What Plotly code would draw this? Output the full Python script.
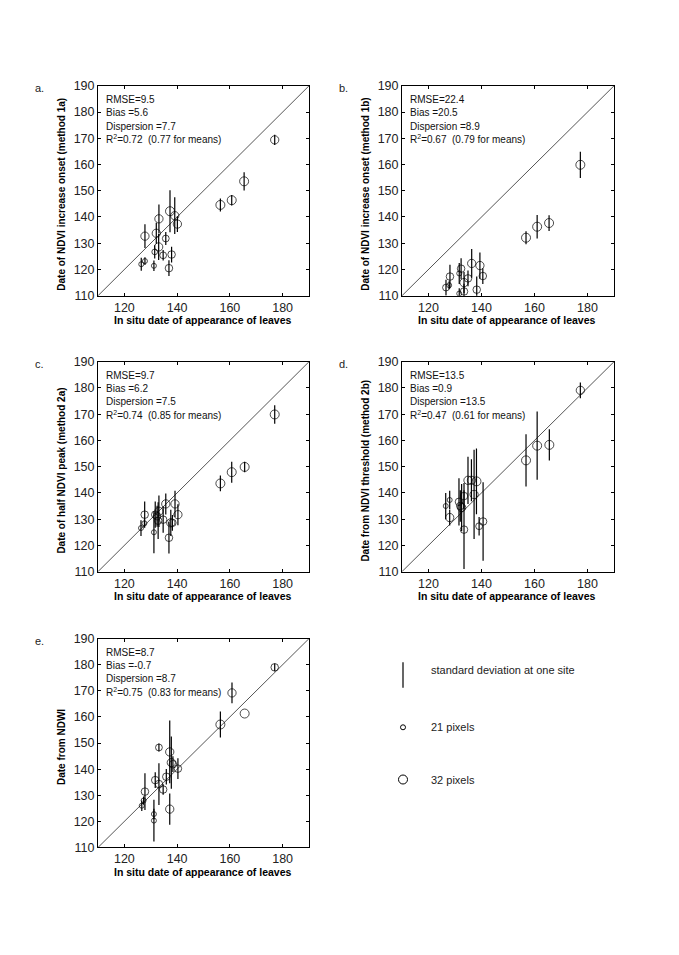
import plotly.graph_objects as go

W, H = 679, 955

# ---------------- data ----------------
xa = [126.4, 127.8, 127.8, 131.2, 131.5, 132.1, 133.0, 133.1, 134.7, 135.7, 136.9, 137.9, 137.3, 139.1, 140.1, 156.4, 160.7, 165.4, 177.0]
ya = [122.0, 123.2, 132.7, 121.4, 126.7, 133.8, 128.6, 139.3, 125.4, 131.8, 120.5, 125.7, 142.2, 140.5, 137.3, 144.6, 146.4, 153.6, 169.4]
ea = [2.5, 1.5, 4.5, 2.0, 2.5, 4.0, 5.0, 5.5, 2.0, 2.5, 3.0, 3.0, 8.0, 7.0, 3.0, 2.5, 2.0, 3.5, 2.0]
na = [21, 21, 30, 21, 23, 30, 30, 30, 26, 26, 28, 28, 32, 30, 30, 32, 32, 32, 30]

xb = [126.6, 127.8, 128.1, 131.6, 131.6, 132.3, 133.4, 133.4, 134.9, 136.3, 138.2, 139.4, 140.5, 156.8, 161.0, 165.5, 177.3]
yb = [113.1, 114.0, 117.3, 118.5, 110.8, 120.3, 115.0, 111.6, 116.6, 122.3, 112.3, 121.5, 117.5, 132.1, 136.3, 137.7, 159.9]
eb = [3.0, 1.5, 4.5, 4.0, 2.0, 4.0, 4.0, 3.0, 3.0, 5.5, 5.0, 5.0, 3.0, 2.5, 4.5, 3.0, 5.0]
nb = [26, 21, 28, 21, 21, 28, 30, 28, 28, 30, 28, 30, 28, 32, 32, 32, 32]

xc = [126.3, 127.6, 127.7, 131.2, 131.7, 132.4, 133.1, 132.8, 134.7, 135.7, 136.9, 137.6, 138.2, 139.2, 140.3, 156.4, 160.7, 165.6, 177.0]
yc = [126.6, 128.4, 131.7, 125.0, 131.7, 131.1, 133.0, 129.4, 129.8, 135.8, 122.9, 128.6, 128.6, 135.8, 131.7, 143.6, 147.9, 149.9, 169.9]
ec = [3.0, 1.5, 5.0, 8.0, 5.0, 4.0, 6.0, 7.0, 5.0, 4.0, 6.0, 5.0, 3.0, 5.0, 4.0, 3.0, 4.0, 2.0, 3.5]
nc = [21, 21, 28, 21, 28, 28, 30, 28, 28, 30, 28, 30, 28, 30, 30, 32, 32, 32, 32]

xd = [126.5, 128.0, 128.0, 131.5, 132.0, 132.5, 133.4, 133.4, 134.9, 136.2, 137.2, 138.1, 139.1, 140.6, 156.8, 161.0, 165.6, 177.3]
yd = [135.0, 137.3, 130.6, 136.6, 135.0, 134.4, 126.0, 138.8, 144.8, 144.8, 139.4, 144.4, 127.3, 129.1, 152.4, 158.0, 158.3, 179.1]
ed = [5.0, 3.5, 3.0, 9.0, 6.0, 9.0, 15.0, 5.0, 9.0, 8.0, 17.0, 12.5, 3.5, 15.0, 10.0, 13.0, 6.0, 3.0]
nd = [21, 21, 30, 28, 28, 30, 28, 28, 30, 30, 30, 32, 26, 28, 32, 32, 32, 30]

xe = [126.6, 127.3, 127.8, 131.2, 131.2, 131.7, 133.1, 134.7, 135.9, 137.2, 137.2, 137.8, 138.4, 140.3, 133.1, 156.4, 160.8, 165.6, 177.0]
ye = [126.0, 128.0, 131.4, 122.8, 120.3, 135.8, 134.3, 132.2, 137.1, 146.6, 124.7, 142.5, 141.9, 140.2, 148.3, 157.1, 169.2, 161.3, 179.0]
ee = [2.0, 1.5, 7.0, 2.0, 8.0, 3.0, 8.0, 2.0, 3.0, 12.0, 6.0, 10.0, 3.0, 4.0, 1.5, 5.0, 4.0, 0.0, 1.5]
ne = [21, 21, 28, 21, 21, 28, 28, 28, 28, 30, 30, 30, 28, 28, 26, 32, 30, 32, 28]

panel_letters = ["a.", "b.", "c.", "d.", "e."]
y_titles = ["Date of NDVI increase onset (method 1a)",
            "Date of NDVI increase onset (method 1b)",
            "Date of half NDVI peak (method 2a)",
            "Date from NDVI threshold (method 2b)",
            "Date from NDWI"]
x_title = "In situ date of appearance of leaves"
rmse = ["9.5", "22.4", "9.7", "13.5", "8.7"]
bias = ["5.6", "20.5", "6.2", "0.9", "-0.7"]
disp = ["7.7", "8.9", "7.5", "13.5", "8.7"]
r2 = ["0.72", "0.67", "0.74", "0.47", "0.75"]
r2m = ["0.77", "0.79", "0.85", "0.61", "0.83"]
x_ticks = [120, 140, 160, 180]
y_ticks = [110, 120, 130, 140, 150, 160, 170, 180, 190]
axis_range = [110, 190]
legend_pixels = [21, 32]
legend_labels = ["standard deviation at one site", "21 pixels", "32 pixels"]

panels = [(xa, ya, ea, na), (xb, yb, eb, nb), (xc, yc, ec, nc), (xd, yd, ed, nd), (xe, ye, ee, ne)]

# ---------------- layout geometry (pixels) ----------------
boxes = [(98, 309, 80, 293), (402, 614, 80, 293),
         (98, 309, 360, 573), (402, 614, 360, 573),
         (98, 309, 641, 853)]


def px(x):
    return x / W


def py(y):
    return 1 - y / H


def msize(n):
    return 5 + (n - 21) * 4.0 / 11.0


FONT = "Arial, Liberation Sans, sans-serif"
fig = go.Figure()
annotations = []
shapes = []
layout = {}

for i, ((x, y, e, n), (l, r, t, b)) in enumerate(zip(panels, boxes)):
    k = "" if i == 0 else str(i + 1)
    xa_name, ya_name = "x" + k, "y" + k
    fig.add_trace(go.Scatter(x=axis_range, y=axis_range, mode="lines",
                             line=dict(color="#555", width=1),
                             xaxis=xa_name, yaxis=ya_name, showlegend=False, hoverinfo="skip"))
    fig.add_trace(go.Scatter(x=x, y=y, mode="markers",
                             marker=dict(symbol="circle-open", size=[msize(v) for v in n],
                                         color="black", line=dict(width=1, color="black")),
                             error_y=dict(type="data", array=e, width=0, thickness=1.2, color="black"),
                             xaxis=xa_name, yaxis=ya_name, showlegend=False))
    common = dict(showline=True, linecolor="black", linewidth=1, mirror="ticks",
                  ticks="inside", ticklen=3, tickcolor="black", showgrid=False, zeroline=False,
                  range=axis_range, tickfont=dict(family=FONT, size=12.5, color="#222"),
                  fixedrange=True)
    layout["xaxis" + k] = dict(domain=[px(l), px(r)], anchor=ya_name, tickvals=x_ticks, **common)
    layout["yaxis" + k] = dict(domain=[py(b), py(t)], anchor=xa_name, tickvals=y_ticks, **common)

    # panel letter
    annotations.append(dict(x=px(l - 65), y=py(t + 2), xref="paper", yref="paper", text=panel_letters[i],
                            showarrow=False, xanchor="left", yanchor="middle",
                            font=dict(family=FONT, size=11, color="#222")))
    # y title
    annotations.append(dict(x=px(l - 36), y=py((t + b) / 2 + 4), xref="paper", yref="paper",
                            text="<b>" + y_titles[i] + "</b>", textangle=-90, showarrow=False,
                            xanchor="center", yanchor="middle",
                            font=dict(family=FONT, size=10, color="black")))
    # x title
    annotations.append(dict(x=px((l + r) / 2 - 1), y=py(b + 25), xref="paper", yref="paper",
                            text="<b>" + x_title + "</b>", showarrow=False,
                            xanchor="center", yanchor="middle",
                            font=dict(family=FONT, size=10.5, color="black")))
    # stats
    lines = ["RMSE=" + rmse[i], "Bias =" + bias[i], "Dispersion =" + disp[i],
             "R<sup>2</sup>=" + r2[i] + "  (" + r2m[i] + " for means)"]
    for j, s in enumerate(lines):
        annotations.append(dict(x=px(l + 6), y=py(t + 14 + 13.4 * j), xref="paper", yref="paper",
                                text=s, showarrow=False, xanchor="left", yanchor="middle",
                                font=dict(family=FONT, size=10, color="#111")))

# ---------------- legend (key) ----------------
shapes.append(dict(type="line", xref="paper", yref="paper", x0=px(403), x1=px(403),
                   y0=py(665), y1=py(691), line=dict(color="black", width=1.2)))
for npix, yy in zip(legend_pixels, [731, 784]):
    d = msize(npix) / 2
    shapes.append(dict(type="circle", xref="paper", yref="paper",
                       xsizemode="pixel", ysizemode="pixel",
                       xanchor=px(403), yanchor=py(yy), x0=-d, x1=d, y0=-d, y1=d,
                       line=dict(color="black", width=1)))
for s, yy in zip(legend_labels, [673, 731, 784]):
    annotations.append(dict(x=px(429), y=py(yy), xref="paper", yref="paper", text=s,
                            showarrow=False, xanchor="left", yanchor="middle",
                            font=dict(family=FONT, size=11, color="#222")))

fig.update_layout(width=W, height=H, margin=dict(l=0, r=0, t=0, b=0),
                  paper_bgcolor="white", plot_bgcolor="white",
                  annotations=annotations, shapes=shapes, showlegend=False, **layout)

fig.write_html("out.html")
